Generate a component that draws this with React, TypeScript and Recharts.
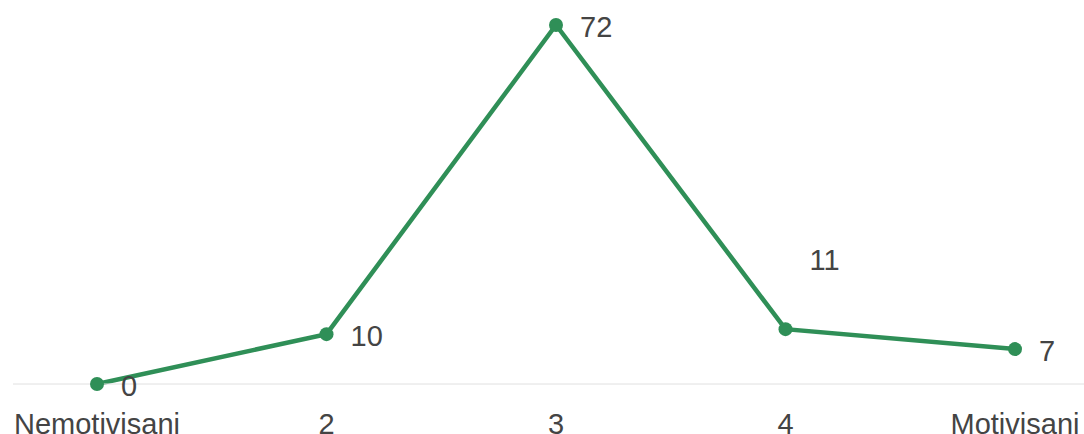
import { LineChart, Line, XAxis, YAxis, LabelList } from "recharts";

const categories = ["Nemotivisani", "2", "3", "4", "Motivisani"];
const counts = [0, 10, 72, 11, 7];

const GREEN = "#2f8f57";
const TEXT = "#444444";
const AXIS = "#e0e0e0";
const font = "'Liberation Sans', Arial, sans-serif";

const data = categories.map((c, i) => ({ name: c, value: counts[i] }));

// value labels sit to the right of the dot; the "4" one floats higher in the original
function ValueLabel(props: any) {
  const { x, y, value, index } = props;
  const dy = index === 3 ? -67 : 4;
  return (
    <text
      x={x + 24}
      y={y + dy}
      fill={TEXT}
      fontSize={29}
      fontFamily={font}
      dominantBaseline="middle"
    >
      {value}
    </text>
  );
}

function Tick(props: any) {
  const { x, y, payload } = props;
  return (
    <text x={x} y={y + 42} textAnchor="middle" fill={TEXT} fontSize={29} fontFamily={font}>
      {payload.value}
    </text>
  );
}

export default function App() {
  return (
    <div style={{ position: "absolute", left: 0, top: 0, width: 1084, height: 434, background: "#fff" }}>
      <LineChart width={1084} height={434} data={data} margin={{ top: 25, right: 0, bottom: 0, left: 13 }}>
        <XAxis
          dataKey="name"
          stroke={AXIS}
          tickLine={false}
          tick={<Tick />}
          height={50}
          padding={{ left: 84, right: 69 }}
          interval={0}
        />
        <YAxis hide domain={[0, 72]} />
        <Line
          dataKey="value"
          stroke={GREEN}
          strokeWidth={4.5}
          dot={{ r: 7, fill: GREEN, stroke: GREEN, strokeWidth: 0 }}
          activeDot={false}
          isAnimationActive={false}
        >
          <LabelList dataKey="value" content={<ValueLabel />} />
        </Line>
      </LineChart>
    </div>
  );
}
